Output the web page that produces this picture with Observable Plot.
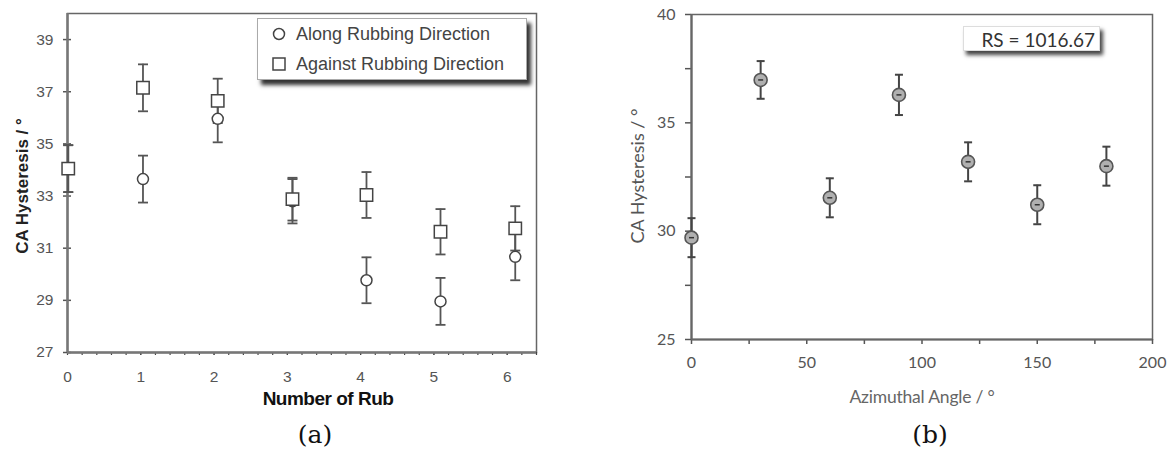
<!DOCTYPE html>
<html><head><meta charset="utf-8">
<script src="https://cdn.jsdelivr.net/npm/d3@7"></script>
<script src="https://cdn.jsdelivr.net/npm/@observablehq/plot@0.6"></script>
<style>
body{margin:0;background:#fff;}
#wrap{position:relative;width:1170px;height:454px;overflow:hidden;background:#fff;}
.abs{position:absolute;white-space:nowrap;line-height:1;}
.rot{transform:translate(-50%,-50%) rotate(-90deg);}
.ctr{transform:translate(-50%,-50%);}
</style></head><body><div id="wrap"></div>
<script>
// ---- Panel (a) data ----
const rubX = [0.01, 1.03, 2.05, 3.07, 4.08, 5.09, 6.11];
const along = [34.05, 33.65, 35.96, 32.80, 29.77, 28.96, 30.67];
const alongErr = [0.9, 0.9, 0.9, 0.85, 0.88, 0.9, 0.9];
const against = [34.05, 37.15, 36.65, 32.88, 33.04, 31.63, 31.76];
const againstErr = [0.9, 0.9, 0.85, 0.82, 0.88, 0.87, 0.85];
const aXTicks = [0, 1, 2, 3, 4, 5, 6];
const aYTicks = [27, 29, 31, 33, 35, 37, 39];
const seriesNames = ["Along Rubbing Direction", "Against Rubbing Direction"];

// ---- Panel (b) data ----
const angles = [0, 30, 60, 90, 120, 150, 180];
const hyst = [29.70, 36.98, 31.54, 36.29, 33.20, 31.22, 33.00];
const hystErr = [0.9, 0.87, 0.9, 0.93, 0.9, 0.9, 0.9];
const bXTicks = [0, 50, 100, 150, 200];
const bXMinor = [25, 75, 125, 175];
const bYTicks = [25, 30, 35, 40];
const bYMinor = [27.5, 32.5, 37.5];
const rsLabel = "RS = 1016.67";

const cap = {draw(ctx, size){const w = Math.sqrt(size/Math.PI); ctx.moveTo(-w,0); ctx.lineTo(w,0);}};

const rowsAlong = rubX.map((x,i)=>({x, y:along[i], e:alongErr[i]}));
const rowsAgainst = rubX.map((x,i)=>({x, y:against[i], e:againstErr[i]}));
const rowsAll = rowsAlong.concat(rowsAgainst);
const aMinor = d3.range(0, 33).map(i => i*0.2);

const plotA = Plot.plot({
  width: 560, height: 400,
  marginLeft: 67, marginTop: 13, marginRight: 24, marginBottom: 48,
  x: {domain: [0, 6.4], label: null},
  y: {domain: [27, 40], label: null},
  style: {fontFamily: "'Liberation Sans', Arial, sans-serif", fontSize: "15.5px", color: "#555", background: "transparent", overflow: "visible"},
  marks: [
    Plot.frame({stroke: "#666", strokeWidth: 1.5}),
    Plot.axisX(aMinor, {tickSize: 3, text: null, label: null, stroke: "#444", strokeWidth: 1.2}),
    Plot.axisX(aXTicks, {tickSize: 3, tickPadding: 15, label: null, stroke: "#444", fill: "#555"}),
    Plot.axisY(aYTicks, {tickSize: 8, dx: 4, tickPadding: 10, label: null, stroke: "#555", strokeWidth: 1.5, fill: "#555"}),
    Plot.ruleX([0], {stroke: "#777", strokeWidth: 2.5}),
    Plot.ruleY([27], {stroke: "#777", strokeWidth: 2.5}),
    Plot.ruleX(rowsAll, {x: "x", y1: d => d.y - d.e, y2: d => d.y + d.e, stroke: "#555", strokeWidth: 1.8}),
    Plot.dot(rowsAll, {x: "x", y: d => d.y + d.e, symbol: cap, r: 5, stroke: "#555", strokeWidth: 1.8}),
    Plot.dot(rowsAll, {x: "x", y: d => d.y - d.e, symbol: cap, r: 5, stroke: "#555", strokeWidth: 1.8}),
    Plot.dot(rowsAlong, {x: "x", y: "y", symbol: "circle", r: 5.5, fill: "white", stroke: "#444", strokeWidth: 1.5}),
    Plot.dot(rowsAgainst, {x: "x", y: "y", symbol: "square", r: 7, fill: "white", stroke: "#444", strokeWidth: 1.5})
  ]
});

const rowsB = angles.map((x,i)=>({x, y:hyst[i], e:hystErr[i]}));
const plotB = Plot.plot({
  width: 590, height: 380,
  marginLeft: 111, marginTop: 14, marginRight: 18, marginBottom: 41,
  x: {domain: [0, 200], label: null},
  y: {domain: [25, 40], label: null},
  style: {fontFamily: "Lato, 'Open Sans', sans-serif", fontSize: "16px", color: "#555", background: "transparent", overflow: "visible"},
  marks: [
    Plot.frame({stroke: "#666", strokeWidth: 1.5}),
    Plot.axisX(bXMinor, {tickSize: 5, text: null, label: null, stroke: "#555", strokeWidth: 1.5}),
    Plot.axisX(bXTicks, {tickSize: 5, tickPadding: 12, label: null, stroke: "#555", strokeWidth: 1.5, fill: "#555"}),
    Plot.axisY(bYMinor, {tickSize: 6, text: null, label: null, stroke: "#555", strokeWidth: 1.5}),
    Plot.axisY(bYTicks, {tickSize: 6, tickPadding: 10, label: null, stroke: "#555", strokeWidth: 1.5, fill: "#555"}),
    Plot.ruleX([0], {stroke: "#666", strokeWidth: 2.2}),
    Plot.ruleY([25], {stroke: "#666", strokeWidth: 2.2}),
    Plot.ruleX(rowsB, {x: "x", y1: d => d.y - d.e, y2: d => d.y + d.e, stroke: "#444", strokeWidth: 2}),
    Plot.dot(rowsB, {x: "x", y: d => d.y + d.e, symbol: cap, r: 4, stroke: "#444", strokeWidth: 2}),
    Plot.dot(rowsB, {x: "x", y: d => d.y - d.e, symbol: cap, r: 4, stroke: "#444", strokeWidth: 2}),
    Plot.dot(rowsB, {x: "x", y: "y", symbol: "circle", r: 6.5, fill: "#b0b0b0", stroke: "#555", strokeWidth: 1.6}),
    Plot.dot(rowsB, {x: "x", y: "y", symbol: cap, r: 2.5, stroke: "#333", strokeWidth: 1.5})
  ]
});

const wrap = document.getElementById("wrap");
plotA.style.position = "absolute"; plotA.style.left = "0px"; plotA.style.top = "0px"; plotA.style.maxWidth = "none";
plotB.style.position = "absolute"; plotB.style.left = "580px"; plotB.style.top = "0px"; plotB.style.maxWidth = "none";
wrap.appendChild(plotA);
wrap.appendChild(plotB);

function addText(txt, left, top, cls, css){
  const d = document.createElement("div");
  d.className = "abs " + cls;
  d.textContent = txt;
  d.style.left = left + "px"; d.style.top = top + "px";
  Object.assign(d.style, css);
  wrap.appendChild(d);
  return d;
}
// panel (a) labels
addText("CA Hysteresis / °", 22, 186, "rot", {fontFamily:"'Liberation Sans', Arial, sans-serif", fontWeight:"bold", fontSize:"17px", color:"#222"});
addText("Number of Rub", 328, 398, "ctr", {fontFamily:"'Liberation Sans', Arial, sans-serif", fontWeight:"bold", fontSize:"19px", color:"#111", letterSpacing:"-0.5px"});
addText("(a)", 315, 434, "ctr", {fontFamily:"'DejaVu Serif', 'Liberation Serif', serif", fontSize:"25px", color:"#111"});
// panel (b) labels
addText("CA Hysteresis / °", 637, 176, "rot", {fontFamily:"Lato, sans-serif", fontSize:"18px", color:"#555"});
addText("Azimuthal Angle / °", 922, 397, "ctr", {fontFamily:"Lato, sans-serif", fontSize:"17.5px", color:"#666", letterSpacing:"-0.2px"});
addText("(b)", 930, 434, "ctr", {fontFamily:"'DejaVu Serif', 'Liberation Serif', serif", fontSize:"25px", color:"#111"});

// legend (a)
const leg = document.createElement("div");
Object.assign(leg.style, {position:"absolute", left:"257px", top:"18px", width:"270px", height:"62px", background:"#fff",
  border:"1px solid #aaa", boxShadow:"4px 5px 4px #333", fontFamily:"'Liberation Sans', Arial, sans-serif", fontSize:"18px", color:"#444", boxSizing:"border-box"});
const syms = ['<circle cx="8" cy="8" r="5.5" fill="white" stroke="#444" stroke-width="1.5"/>',
              '<rect x="2" y="2" width="12" height="12" fill="white" stroke="#444" stroke-width="1.5"/>'];
seriesNames.forEach((name, i) => {
  const row = document.createElement("div");
  Object.assign(row.style, {position:"absolute", left:"13px", top:(5 + i*30) + "px", height:"20px", display:"flex", alignItems:"center", whiteSpace:"nowrap"});
  row.innerHTML = '<svg width="16" height="16" style="margin-right:9px">' + syms[i] + '</svg>';
  const s = document.createElement("span"); s.textContent = name; row.appendChild(s);
  leg.appendChild(row);
});
wrap.appendChild(leg);

// RS label (b)
const rs = document.createElement("div");
Object.assign(rs.style, {position:"absolute", left:"963px", top:"26px", width:"137px", height:"25px", background:"#fff",
  boxShadow:"3px 4px 4px #444", fontFamily:"Lato, sans-serif", fontSize:"19px", color:"#333", textAlign:"right",
  lineHeight:"25px", paddingRight:"4px", boxSizing:"border-box", border:"1px solid #ddd"});
rs.textContent = rsLabel;
wrap.appendChild(rs);
</script>
</body></html>
